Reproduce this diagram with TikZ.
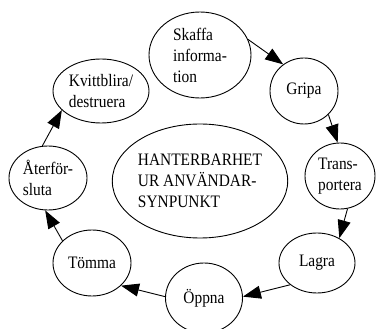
\documentclass[tikz,border=0pt]{standalone}
\usepackage{fontspec}
\setmainfont{Liberation Serif}[FakeStretch=0.88]
\usetikzlibrary{shapes.geometric,arrows.meta}
\begin{document}
\begin{tikzpicture}[x=1pt,y=-1pt,
  el/.style={ellipse,draw,line width=0.9pt,inner sep=0pt,align=left,font=\fontsize{17.5}{21}\selectfont},
  arr/.style={line width=0.9pt,-{Triangle[length=18pt,width=13pt]}}]
\clip (0,0) rectangle (376,329);
\node[el,minimum width=102pt,minimum height=86pt] (sk) at (200,55) {Skaffa\\informa-\\tion};
\node[el,minimum width=68pt,minimum height=66pt] (gr) at (304,91) {Gripa};
\node[el,minimum width=70pt,minimum height=66pt] (tr) at (340,176) {Trans-\\portera};
\node[el,minimum width=76pt,minimum height=60pt] (la) at (317,263) {Lagra};
\node[el,minimum width=77pt,minimum height=70pt] (op) at (204,298) {Öppna};
\node[el,minimum width=78pt,minimum height=66pt] (tom) at (92,263) {Tömma};
\node[el,minimum width=78pt,minimum height=64pt] (ater) at (48,178) {Återför-\\sluta};
\node[el,minimum width=96pt,minimum height=64pt] (kv) at (101,91) {Kvittblira/\\destruera};
\node[el,minimum width=170pt,minimum height=114pt] (hu) at (200,181) {HANTERBARHET\\UR ANVÄNDAR-\\SYNPUNKT};
\draw[arr] (sk.18) -- (gr.128);
\draw[arr] (gr.-44) -- (tr.94);
\draw[arr] (tr.-77) -- (la.48);
\draw[arr] (la.219) -- (op.2);
\draw[arr] (op.178) -- (tom.-38);
\draw[arr] (tom.143) -- (ater.-95);
\draw[arr] (ater.100) -- (kv.206);
\end{tikzpicture}
\end{document}
